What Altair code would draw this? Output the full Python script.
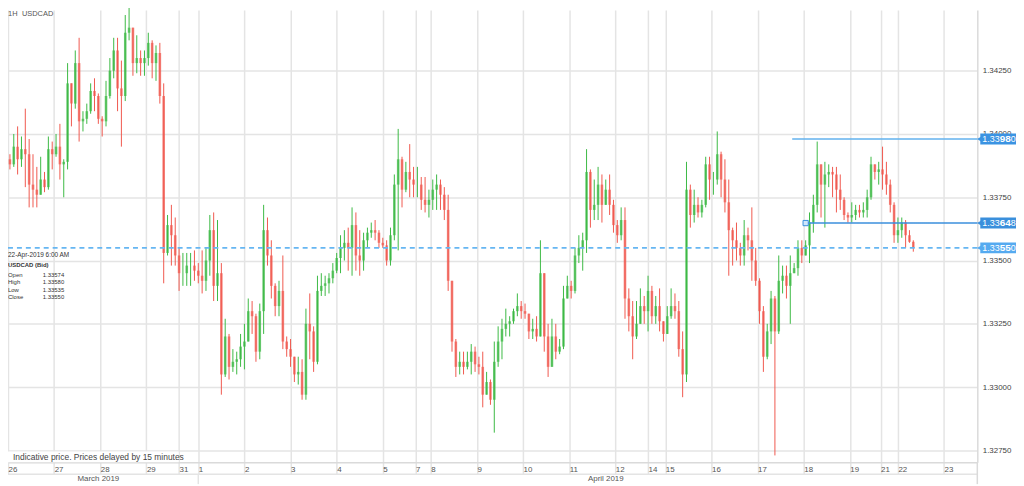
import altair as alt
import pandas as pd

# ---------------- data (prices in pips above 1.33000) ----------------
BASE = 1.33
first_open = 90
closes = [88, 95, 90, 94, 92, 80, 78, 76, 82, 79, 94, 92,
          95, 88, 89, 120, 112, 128, 105, 106, 109, 117, 115, 106,
          105, 115, 125, 133, 118, 115, 140, 142, 128, 130, 128, 130,
          136, 128, 132, 115, 53, 64, 60, 52, 45, 45, 48, 48, 46, 44,
          42, 50, 62, 40, 45, 5, 20, 8, 10, 11, 16, 18,
          30, 28, 14, 30, 62, 52, 40, 32, 38, 18, 15, 12,
          5, 6, -3, 25, 22, 10, 38, 40, 41, 43, 46, 51,
          55, 57, 55, 64, 52, 50, 58, 61, 62, 61, 57, 56, 50, 60,
          80, 90, 78, 85, 82, 80, 80, 74, 72, 74,
          78, 80, 76, 70, 42, 18, 8, 10, 8, 10, 14, 9,
          8, -3, 2, -5, 10, 18, 23, 25, 26, 30, 32, 30,
          29, 22, 23, 20, 45, 20, 8, 20, 14, 16, 35, 40,
          38, 52, 55, 58, 85, 70, 72, 80, 72, 78, 72, 64,
          60, 66, 35, 28, 20, 25, 32, 30, 38, 28, 32, 26,
          21, 28, 32, 30, 15, 5, 78, 68, 72, 69, 72, 88, 82,
          82, 92, 82, 73, 62, 58, 55, 52, 60, 58, 50, 42,
          30, 12, 22, 35, 22, 42, 44, 40, 45, 47, 55, 52, 56,
          65, 72, 88, 80, 84, 85, 84, 78, 74, 68, 67, 68,
          70, 69, 70, 75, 88, 85, 86, 84, 80, 72, 60, 62,
          65, 60, 57.4, 55]
highs = [92, 100, 103, 99, 110, 98, 92, 87, 91, 85, 99, 97,
         100, 104, 90, 128, 120, 133, 138, 109, 112, 120, 122, 116,
         107, 121, 130, 138, 138, 129, 147, 150, 142, 139, 133, 133,
         140, 137, 135, 136, 120, 68, 72, 67, 55, 53, 53, 53, 54, 49,
         54, 55, 68, 69, 66, 49, 27, 21, 15, 14, 21, 25,
         35, 34, 29, 33, 72, 67, 58, 41, 42, 52, 20, 19,
         12, 12, 11, 31, 37, 24, 44, 45, 44, 45, 49, 53,
         60, 62, 63, 71, 69, 62, 61, 63, 65, 66, 62, 59, 58, 63,
         84, 102, 91, 89, 96, 87, 87, 83, 83, 78,
         82, 84, 82, 79, 76, 42, 19, 14, 14, 14, 17, 16,
         12, 14, 6, 3, 18, 24, 27, 31, 28, 31, 37, 34,
         33, 29, 27, 28, 58, 45, 25, 27, 25, 19, 40, 44,
         42, 55, 60, 61, 94, 86, 82, 87, 84, 82, 84, 74,
         66, 71, 71, 39, 34, 34, 39, 36, 44, 40, 36, 39,
         26, 32, 39, 37, 34, 22, 89, 80, 78, 75, 74, 91, 91,
         85, 101, 93, 90, 82, 63, 65, 57, 66, 63, 71, 55,
         43, 32, 25, 38, 36, 52, 48, 48, 52, 49, 58, 58, 58,
         69, 76, 97, 88, 89, 88, 87, 87, 84, 75, 69, 73,
         72, 72, 73, 78, 91, 88, 89, 95, 89, 82, 73, 67,
         67, 66, 62, 58]
lows = [86, 87, 84, 87, 79, 71, 71, 71, 78, 77, 78, 86,
        91, 82, 75, 86, 103, 110, 97, 101, 104, 108, 109, 104,
        99, 103, 114, 122, 109, 95, 113, 137, 123, 124, 123, 123,
        127, 122, 121, 112, 41, 52, 48, 48, 38, 40, 40, 40, 42, 41,
        37, 38, 44, 34, 34, -3, 4, 3, 6, 5, 8, 7,
        18, 21, 10, 11, 21, 48, 35, 28, 28, 15, 12, 8,
        2, 1, -5, -5, 11, 6, 9, 36, 36, 37, 41, 45,
        45, 50, 46, 44, 46, 44, 46, 55, 59, 58, 55, 55, 48, 48,
        58, 54, 71, 77, 75, 75, 75, 70, 69, 67,
        70, 70, 70, 66, 38, 14, 4, 5, 5, 7, 5, 6,
        5, -8, -3, -7, -18, 8, 11, 20, 20, 25, 28, 27,
        27, 19, 19, 18, 20, 14, 4, 8, 11, 13, 15, 35,
        35, 37, 49, 46, 53, 63, 66, 66, 65, 72, 68, 61,
        57, 58, 27, 22, 11, 19, 25, 25, 22, 25, 25, 22,
        18, 21, 27, 27, 12, -4, 2, 63, 65, 67, 67, 71, 74,
        76, 80, 75, 69, 44, 48, 50, 48, 48, 54, 42, 40,
        25, 6, 11, 17, -27, 21, 37, 35, 25, 45, 44, 49, 52,
        49, 61, 69, 67, 63, 79, 75, 69, 70, 66, 65, 65,
        66, 67, 67, 67, 74, 82, 80, 78, 76, 69, 57, 57,
        59, 55, 57, 53.5]

# trading-hour index at which each day starts on the chart's compressed axis
day_labels = ["26", "27", "28", "29", "31", "1", "2", "3", "4", "5", "7", "8", "9",
              "10", "11", "12", "14", "15", "16", "17", "18", "19", "21", "22", "23"]
day_starts = [0, 24, 48, 72, 89, 99, 123, 147, 171, 195, 212, 220, 244,
              268, 292, 316, 333, 342, 366, 390, 414, 438, 454, 463, 487]
month_labels = ["March 2019", "April 2019"]
month_centers = [47, 311]
month_break = [99]
price_ticks = [1.3275, 1.3300, 1.3325, 1.3350, 1.3375, 1.3400, 1.3425]

level_prices = [1.33980, 1.33648, 1.33550]
level_head = ["1.33", "1.33", "1.33"]      # leading digits
level_pips = ["98", "64", "55"]            # emphasised pip digits
level_tail = ["0", "8", "0"]               # fractional pip digit
level_starts = [408, 415, 0]

info_rows = ["Open", "High", "Low", "Close"]
info_values = ["1.33574", "1.33580", "1.33535", "1.33550"]

# ---------------- tables ----------------
opens = [first_open] + closes[:-1]
rows = []
for k, (o, h, l, c) in enumerate(zip(opens, highs, lows, closes)):
    rows.append({
        "idx": 2 * k + 1,
        "open": BASE + o / 10000,
        "close": BASE + c / 10000,
        "high": BASE + max(h, o, c) / 10000,
        "low": BASE + min(l, o, c) / 10000,
        "dir": "up" if c >= o else "down",
    })
candles = pd.DataFrame(rows)

W, H = 977, 456
FONT = "Liberation Sans"
GRID = "#e4e4e4"
GREEN, RED = "#3cb944", "#f0584e"
NBSP = "\u00a0"

xs = alt.Scale(domain=[0, 504.3], nice=False, zero=False, padding=0)
ys = alt.Scale(domain=[1.327029, 1.344903], nice=False, zero=False, padding=0)
col = alt.Color("dir:N", scale=alt.Scale(domain=["up", "down"], range=[GREEN, RED]), legend=None)

lbl_arr = "[" + ",".join("'%s%s'" % (NBSP, d) for d in day_labels) + "]"
idx_arr = "[" + ",".join(str(d) for d in day_starts) + "]"
label_expr = f"{lbl_arr}[indexof({idx_arr}, datum.value)]"


def X(field):
    return alt.X(field, scale=xs, title=None)


def Y(field):
    return alt.Y(field, scale=ys, title=None)


wicks = alt.Chart(candles).mark_rule(strokeWidth=1).encode(
    x=alt.X("idx:Q", scale=xs, title=None, axis=alt.Axis(
        orient="bottom", values=day_starts, labelExpr=label_expr,
        grid=True, gridColor=GRID, gridWidth=1.5,
        ticks=True, tickSize=12, tickColor=GRID, tickWidth=1.5,
        domain=True, domainColor="#dadada", domainWidth=1.5,
        labelAlign="left", labelBaseline="middle", labelPadding=-5,
        labelFontSize=8, labelColor="#555555", labelFont=FONT,
        labelOverlap=False, labelBound=False, labelFlush=False)),
    y=alt.Y("low:Q", scale=ys, title=None, axis=alt.Axis(
        orient="right", values=price_ticks, format=".5f",
        grid=True, gridColor=GRID, gridWidth=1.5, ticks=False,
        domain=True, domainColor="#dadada", domainWidth=1.5,
        labelPadding=5, labelFontSize=8, labelColor="#444444", labelFont=FONT)),
    y2="high:Q",
    color=col,
)

bodies = alt.Chart(candles).mark_bar(size=2.6, opacity=0.72).encode(
    x=X("idx:Q"), y=Y("open:Q"), y2="close:Q", color=col,
)

layers = [wicks, bodies]

# price level lines with their right-hand price tags
line_cols = ["#62b2ee", "#3a8fdc", "#66b6f2"]
box_cols = ["#3b93e2", "#3a8fdc", "#55aaf0"]
dashes = [[1, 0], [1, 0], [5, 4]]
for p, hd, pp, tl, s, lc, bc, d in zip(level_prices, level_head, level_pips, level_tail,
                                        level_starts, line_cols, box_cols, dashes):
    df = pd.DataFrame({"price": [p], "start": [s], "hd": [hd], "pp": [pp], "tl": [tl]})
    layers.append(alt.Chart(df).mark_rule(color=lc, strokeWidth=1.6, strokeDash=d).encode(
        x=X("start:Q"), x2=alt.value(W), y=Y("price:Q")))
    layers.append(alt.Chart(df).mark_rect(color=bc, yOffset=-5.5, y2Offset=5.5).encode(
        x=alt.value(980), x2=alt.value(1016), y=Y("price:Q"), y2="price:Q"))
    layers.append(alt.Chart(df).mark_point(shape="triangle-left", filled=True, size=28,
                                           color=bc, opacity=1).encode(
        x=alt.value(979), y=Y("price:Q")))
    layers.append(alt.Chart(df).mark_text(align="left", baseline="middle", fontSize=9,
                                          color="white", font=FONT).encode(
        x=alt.value(982), y=Y("price:Q"), text="hd:N"))
    layers.append(alt.Chart(df).mark_text(align="left", baseline="middle", fontSize=10,
                                          fontWeight="bold", color="white", font=FONT).encode(
        x=alt.value(999.5), y=Y("price:Q"), text="pp:N"))
    layers.append(alt.Chart(df).mark_text(align="left", baseline="middle", fontSize=9,
                                          color="white", font=FONT).encode(
        x=alt.value(1010.6), y=Y("price:Q"), text="tl:N"))

# anchor marker on the 1.33648 line
anchor = pd.DataFrame({"price": [level_prices[1]], "start": [level_starts[1]]})
layers.append(alt.Chart(anchor).mark_square(size=28, filled=True, color="#cfe6fb",
                                            stroke="#3a8fdc", strokeWidth=1, opacity=1).encode(
    x=X("start:Q"), y=Y("price:Q")))

# bottom rows: separators and month labels
sep = pd.DataFrame({"x": month_break})
layers.append(alt.Chart(sep).mark_rule(color=GRID, strokeWidth=1.5).encode(
    x=X("x:Q"), y=alt.value(468), y2=alt.value(478)))
layers.append(alt.Chart(sep).mark_rule(color=GRID, strokeWidth=1.5).encode(
    x=alt.value(0), x2=alt.value(W), y=alt.value(468)))
layers.append(alt.Chart(sep).mark_rule(color="#dadada", strokeWidth=1.5).encode(
    x=alt.value(W), y=alt.value(456), y2=alt.value(478)))
months = pd.DataFrame({"m": month_labels, "x": month_centers})
layers.append(alt.Chart(months).mark_text(fontSize=8, color="#555555", font=FONT,
                                          baseline="middle").encode(
    x=X("x:Q"), y=alt.value(473), text="m:N"))

# text annotations
one = pd.DataFrame({"a": [0]})


def txt(s, x, y, size=8, color="#555555", weight="normal", align="left"):
    return alt.Chart(one).mark_text(text=s, fontSize=size, color=color, font=FONT,
                                    fontWeight=weight, align=align, baseline="middle").encode(
        x=alt.value(x), y=alt.value(y))


layers.append(alt.Chart(one).mark_rect(color="white").encode(
    x=alt.value(0), x2=alt.value(172), y=alt.value(445), y2=alt.value(456)))
layers.append(txt("Indicative price. Prices delayed by 15 minutes", 5, 451, size=8.5, color="#444444"))
layers.append(txt("1H", 0, 4, size=7.5))
layers.append(txt("USDCAD", 14, 4, size=7.5))
layers.append(txt("22-Apr-2019 6:00 AM", 0, 247, size=6.5, color="#333333"))
layers.append(txt("USDCAD (Bid)", 0, 257.5, size=6, color="#333333", weight="bold"))
for i, (r, v) in enumerate(zip(info_rows, info_values)):
    layers.append(txt(r, 0, 267 + i * 7.5, size=6, color="#333333"))
    layers.append(txt(v, 35, 267 + i * 7.5, size=6, color="#333333"))

chart = alt.layer(*layers).properties(
    width=W, height=H, background="white",
    padding={"left": 0, "top": 0, "right": 39, "bottom": 22},
    autosize=alt.AutoSizeParams(type="none"),
).configure_view(strokeWidth=0)

chart.save("out.html", embed_options={"renderer": "svg", "actions": False})
